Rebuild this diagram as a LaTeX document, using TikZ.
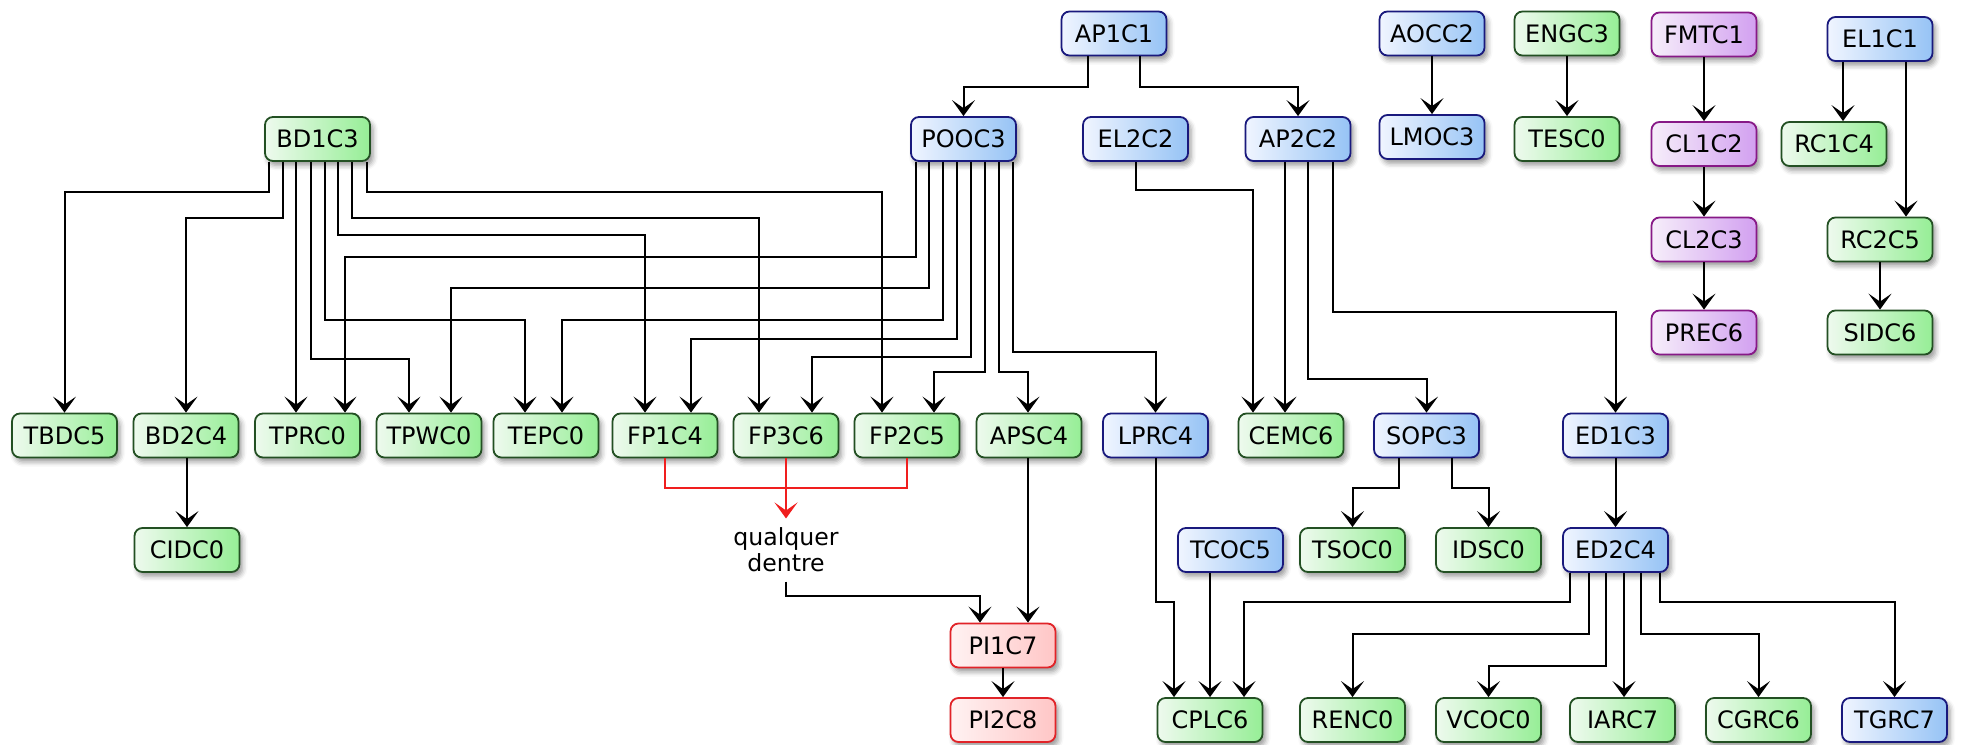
\documentclass[tikz,border=0pt]{standalone}
\usepackage{fontspec}
\setmainfont{DejaVu Sans}
\usetikzlibrary{arrows.meta,shadows.blur}
\definecolor{gB}{RGB}{35,80,35}
\definecolor{gL}{RGB}{238,250,238}
\definecolor{gR}{RGB}{150,238,150}
\definecolor{bB}{RGB}{25,25,125}
\definecolor{bL}{RGB}{240,245,255}
\definecolor{bR}{RGB}{150,195,245}
\definecolor{pB}{RGB}{135,25,135}
\definecolor{pL}{RGB}{246,238,250}
\definecolor{pR}{RGB}{210,160,240}
\definecolor{rB}{RGB}{225,35,40}
\definecolor{rL}{RGB}{255,242,242}
\definecolor{rR}{RGB}{255,198,198}
\definecolor{redline}{RGB}{240,30,30}
\begin{document}
\begin{tikzpicture}[x=0.5pt,y=-0.5pt,
  box/.style={rounded corners=4pt, minimum width=52.5pt, minimum height=22pt,
    inner sep=1pt, line width=0.9pt, font=\fontsize{12}{13}\selectfont,
    blur shadow={shadow xshift=1.5pt, shadow yshift=-2.2pt, shadow blur radius=2.5pt, shadow opacity=40}},
  gn/.style={box, draw=gB, left color=gL, right color=gR},
  bn/.style={box, draw=bB, left color=bL, right color=bR},
  pn/.style={box, draw=pB, left color=pL, right color=pR},
  rn/.style={box, draw=rB, left color=rL, right color=rR},
  ar/.style={line width=1pt, draw=black, -{Stealth[length=8pt,width=11.5pt,inset=4pt]}},
  redl/.style={line width=1pt, draw=redline},
  redar/.style={line width=1pt, draw=redline, -{Stealth[length=8pt,width=11.5pt,inset=4pt]}},
  qtext/.style={align=center, inner sep=4.5pt, font=\fontsize{11.8}{13}\selectfont}
]
\useasboundingbox (0,0) rectangle (1963,744);

% row 0
\node[bn] (AP1C1) at (1114,33.5) {AP1C1};
\node[bn] (AOCC2) at (1432,33.5) {AOCC2};
\node[gn] (ENGC3) at (1567,33.5) {ENGC3};
\node[pn] (FMTC1) at (1704,34.5) {FMTC1};
\node[bn] (EL1C1) at (1880,39) {EL1C1};
% row 1
\node[gn] (BD1C3) at (317.5,139) {BD1C3};
\node[bn] (POOC3) at (963.5,139) {POOC3};
\node[bn] (EL2C2) at (1135.5,139) {EL2C2};
\node[bn] (AP2C2) at (1298,139) {AP2C2};
\node[bn] (LMOC3) at (1432,137) {LMOC3};
\node[gn] (TESC0) at (1567,139) {TESC0};
\node[pn] (CL1C2) at (1704,144) {CL1C2};
\node[gn] (RC1C4) at (1834,144) {RC1C4};
% rows 2-3
\node[pn] (CL2C3) at (1704,239.5) {CL2C3};
\node[gn] (RC2C5) at (1880,239.5) {RC2C5};
\node[pn] (PREC6) at (1704,332.5) {PREC6};
\node[gn] (SIDC6) at (1880,332.5) {SIDC6};
% row 4
\node[gn] (TBDC5) at (64.5,435.5) {TBDC5};
\node[gn] (BD2C4) at (186,435.5) {BD2C4};
\node[gn] (TPRC0) at (307.5,435.5) {TPRC0};
\node[gn] (TPWC0) at (429,435.5) {TPWC0};
\node[gn] (TEPC0) at (546,435.5) {TEPC0};
\node[gn] (FP1C4) at (665,435.5) {FP1C4};
\node[gn] (FP3C6) at (786,435.5) {FP3C6};
\node[gn] (FP2C5) at (907,435.5) {FP2C5};
\node[gn] (APSC4) at (1029,435.5) {APSC4};
\node[bn] (LPRC4) at (1155.5,435.5) {LPRC4};
\node[gn] (CEMC6) at (1291,435.5) {CEMC6};
\node[bn] (SOPC3) at (1426.5,435.5) {SOPC3};
\node[bn] (ED1C3) at (1615.5,435.5) {ED1C3};
% row 5
\node[gn] (CIDC0) at (187,550) {CIDC0};
\node[qtext] (q) at (786,550) {qualquer\\dentre};
\node[bn] (TCOC5) at (1230.5,550) {TCOC5};
\node[gn] (TSOC0) at (1352.5,550) {TSOC0};
\node[gn] (IDSC0) at (1488.5,550) {IDSC0};
\node[bn] (ED2C4) at (1615.5,550) {ED2C4};
\node[rn] (PI1C7) at (1003,645.5) {PI1C7};
% row 6
\node[rn] (PI2C8) at (1003,720) {PI2C8};
\node[gn] (CPLC6) at (1210,720) {CPLC6};
\node[gn] (RENC0) at (1352.5,720) {RENC0};
\node[gn] (VCOC0) at (1488.5,720) {VCOC0};
\node[gn] (IARC7) at (1622.5,720) {IARC7};
\node[gn] (CGRC6) at (1758.5,720) {CGRC6};
\node[bn] (TGRC7) at (1894.5,720) {TGRC7};

% top area
\draw[ar] (AP1C1.south -| 1088,0) -- (1088,87) -| (POOC3.north);
\draw[ar] (AP1C1.south -| 1140,0) -- (1140,87) -| (AP2C2.north);
\draw[ar] (AOCC2) -- (LMOC3);
\draw[ar] (ENGC3) -- (TESC0);
\draw[ar] (FMTC1) -- (CL1C2);
\draw[ar] (CL1C2) -- (CL2C3);
\draw[ar] (CL2C3) -- (PREC6);
\draw[ar] (EL1C1.south -| 1843,0) -- (RC1C4.north -| 1843,0);
\draw[ar] (EL1C1.south -| 1906,0) -- (RC2C5.north -| 1906,0);
\draw[ar] (RC2C5) -- (SIDC6);

% BD1C3
\draw[ar] (BD1C3.south -| 269,0) -- (269,192) -| (TBDC5.north);
\draw[ar] (BD1C3.south -| 283,0) -- (283,218) -| (BD2C4.north);
\draw[ar] (BD1C3.south -| 296,0) -- (TPRC0.north -| 296,0);
\draw[ar] (BD1C3.south -| 311,0) -- (311,359) -| (TPWC0.north -| 409,0);
\draw[ar] (BD1C3.south -| 325,0) -- (325,320) -| (TEPC0.north -| 525,0);
\draw[ar] (BD1C3.south -| 338,0) -- (338,235) -| (FP1C4.north -| 645,0);
\draw[ar] (BD1C3.south -| 352,0) -- (352,218) -| (FP3C6.north -| 759,0);
\draw[ar] (BD1C3.south -| 367,0) -- (367,192) -| (FP2C5.north -| 882,0);

% POOC3
\draw[ar] (POOC3.south -| 916,0) -- (916,257) -| (TPRC0.north -| 345,0);
\draw[ar] (POOC3.south -| 929,0) -- (929,288) -| (TPWC0.north -| 451,0);
\draw[ar] (POOC3.south -| 943,0) -- (943,320) -| (TEPC0.north -| 562,0);
\draw[ar] (POOC3.south -| 957,0) -- (957,339) -| (FP1C4.north -| 691,0);
\draw[ar] (POOC3.south -| 971,0) -- (971,357) -| (FP3C6.north -| 812,0);
\draw[ar] (POOC3.south -| 985,0) -- (985,372) -| (FP2C5.north -| 934,0);
\draw[ar] (POOC3.south -| 999,0) -- (999,372) -| (APSC4.north -| 1028,0);
\draw[ar] (POOC3.south -| 1013,0) -- (1013,352) -| (LPRC4.north);

% EL2C2, AP2C2
\draw[ar] (EL2C2.south) -- (1135.5,190) -| (CEMC6.north -| 1253,0);
\draw[ar] (AP2C2.south -| 1285,0) -- (CEMC6.north -| 1285,0);
\draw[ar] (AP2C2.south -| 1308,0) -- (1308,379) -| (SOPC3.north);
\draw[ar] (AP2C2.south -| 1333,0) -- (1333,312) -| (ED1C3.north);

% SOPC3, ED1C3, BD2C4
\draw[ar] (SOPC3.south -| 1399,0) -- (1399,488) -| (TSOC0.north);
\draw[ar] (SOPC3.south -| 1452,0) -- (1452,488) -| (IDSC0.north);
\draw[ar] (ED1C3) -- (ED2C4);
\draw[ar] (BD2C4.south -| 187,0) -- (CIDC0.north);

% bottom right
\draw[ar] (LPRC4.south) -- (1155.5,602) -| (CPLC6.north -| 1174,0);
\draw[ar] (TCOC5.south -| 1210,0) -- (CPLC6.north);
\draw[ar] (ED2C4.south -| 1570,0) -- (1570,602) -| (CPLC6.north -| 1244,0);
\draw[ar] (ED2C4.south -| 1589,0) -- (1589,634) -| (RENC0.north);
\draw[ar] (ED2C4.south -| 1606,0) -- (1606,666) -| (VCOC0.north);
\draw[ar] (ED2C4.south -| 1624,0) -- (IARC7.north -| 1624,0);
\draw[ar] (ED2C4.south -| 1641,0) -- (1641,634) -| (CGRC6.north);
\draw[ar] (ED2C4.south -| 1660,0) -- (1660,602) -| (TGRC7.north);

% PI
\draw[ar] (APSC4.south -| 1028,0) -- (PI1C7.north -| 1028,0);
\draw[ar] (q.south) -- (786,596) -| (PI1C7.north -| 980,0);
\draw[ar] (PI1C7) -- (PI2C8);

% red
\coordinate (rj) at (786,488);
\draw[redl] (FP1C4.south) |- (rj) -| (FP2C5.south);
\draw[redar] (FP3C6.south) -- (q.north);
\end{tikzpicture}
\end{document}
